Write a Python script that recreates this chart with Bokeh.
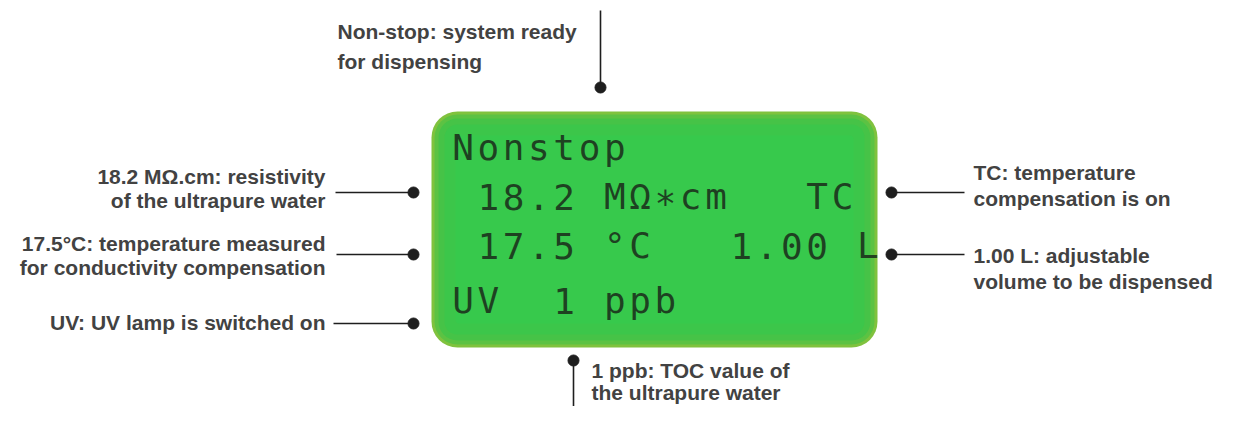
from bokeh.plotting import figure
from bokeh.models import Range1d
from bokeh.core.properties import value
from bokeh.embed import file_html
from bokeh.resources import INLINE

# ---- content ----
lcd_rows = ["Nonstop", " 18.2 MΩ∗cm   TC", " 17.5 °C   1.00 L", "UV  1 ppb"]

left_texts = [
    ["18.2 MΩ.cm: resistivity", "of the ultrapure water"],
    ["17.5°C: temperature measured", "for conductivity compensation"],
    ["UV: UV lamp is switched on"],
]
right_texts = [
    ["TC: temperature", "compensation is on"],
    ["1.00 L: adjustable", "volume to be dispensed"],
]
top_text = ["Non-stop: system ready", "for dispensing"]
bottom_text = ["1 ppb: TOC value of", "the ultrapure water"]

# ---- layout (image pixel coordinates) ----
W, H = 1217, 406
p = figure(width=W, height=H, x_range=Range1d(0, W), y_range=Range1d(H, 0),
           output_backend="svg", toolbar_location=None, min_border=0)
p.axis.visible = False
p.grid.visible = False
p.outline_line_color = None
p.background_fill_color = "white"
p.border_fill_color = "white"

# LCD panel (layered to imitate the glow)
L, R, T, B = 431, 877, 111, 347
layers = [(0, "#80c23e"), (3, "#5cc243"), (7, "#46c347"), (13, "#3cc64a"), (24, "#37c94c")]
for inset, col in layers:
    p.quad(left=L + inset, right=R - inset, top=T + inset, bottom=B - inset,
           fill_color=col, line_color=None, border_radius=max(4, 26 - inset))

# LCD characters on a grid
x0, pitch = 451, 25.3
row_mid = [147, 196, 245, 300]
cx, cy, ch = [], [], []
for r, row in enumerate(lcd_rows):
    for c, char in enumerate(row):
        if char != " ":
            cx.append(x0 + c * pitch + 11.5)
            cy.append(row_mid[r])
            ch.append(char)
p.text(x=cx, y=cy, text=ch, text_font=value("DejaVu Sans Mono"), text_font_size="36px",
       text_align="center", text_baseline="middle", text_color="#1a281a", text_alpha=0.85)

lab_font = value("Liberation Sans")
lab_size = "21px"
lab_color = "#424242"
line_color = "#1e1e1e"

def labels(xs, ys, texts, align):
    p.text(x=xs, y=ys, text=texts, text_font=lab_font, text_font_size=lab_size,
           text_font_style="bold", text_color=lab_color, text_align=align,
           text_baseline="middle")

# left callouts
left_y = [[176, 200], [243, 267], [322]]
left_line_y = [192, 254, 323]
left_line_x0 = [335, 336, 333]
for texts, ys in zip(left_texts, left_y):
    labels([325] * len(texts), ys, texts, "right")
p.segment(x0=left_line_x0, y0=left_line_y, x1=[413] * 3, y1=left_line_y, line_color=line_color, line_width=1.6)
p.scatter(x=[413] * 3, y=left_line_y, size=11, color=line_color)

# right callouts
right_y = [[172, 198], [255, 281]]
right_line_y = [192, 254]
for texts, ys in zip(right_texts, right_y):
    labels([973] * len(texts), ys, texts, "left")
p.segment(x0=[891] * 2, y0=right_line_y, x1=[964] * 2, y1=right_line_y, line_color=line_color, line_width=1.6)
p.scatter(x=[891] * 2, y=right_line_y, size=11, color=line_color)

# top callout
labels([337, 337], [31, 61], top_text, "left")
p.segment(x0=[600], y0=[10], x1=[600], y1=[87], line_color=line_color, line_width=1.6)
p.scatter(x=[600], y=[87], size=11, color=line_color)

# bottom callout
labels([591, 591], [370, 392], bottom_text, "left")
p.segment(x0=[573], y0=[360], x1=[573], y1=[406], line_color=line_color, line_width=1.6)
p.scatter(x=[573], y=[360], size=11, color=line_color)

open("out.html", "w").write(file_html(p, INLINE))
